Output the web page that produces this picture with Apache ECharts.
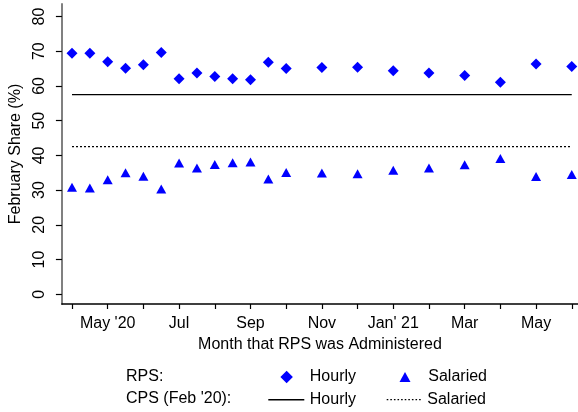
<!DOCTYPE html>
<html>
<head>
<meta charset="utf-8">
<script src="https://cdn.jsdelivr.net/npm/echarts@6/dist/echarts.min.js"></script>
<style>
  html, body { margin: 0; padding: 0; background: #fff; }
  #myCharts { width: 578px; height: 412px; }
</style>
</head>
<body>
<div id="myCharts"></div>
<script>
// months since Apr 2020 (half steps = mid-month waves)
var waveMonth = [0, 0.5, 1, 1.5, 2, 2.5, 3, 3.5, 4, 4.5, 5, 5.5, 6, 7, 8, 9, 10, 11, 12, 13, 14];
var rpsHourly = [69.4, 69.4, 67.0, 65.1, 66.1, 69.6, 62.1, 63.7, 62.7, 62.1, 61.8, 66.8, 65.0,
                 65.3, 65.4, 64.4, 63.7, 63.0, 61.1, 66.3, 65.6];
var rpsSalaried = [30.8, 30.6, 33.0, 35.0, 34.0, 30.3, 37.8, 36.4, 37.4, 37.9, 38.1, 33.2, 35.1,
                   34.9, 34.7, 35.7, 36.4, 37.3, 39.1, 33.9, 34.5];
var cpsHourly = 57.5;
var cpsSalaried = 42.5;
var cpsSpan = [0, 14];

var monthTicks = [0, 1, 2, 3, 4, 5, 6, 7, 8, 9, 10, 11, 12, 13, 14];
var monthLabels = ["", "May '20", "", "Jul", "", "Sep", "", "Nov", "", "Jan' 21", "", "Mar", "", "May", ""];
var yTicks = [0, 10, 20, 30, 40, 50, 60, 70, 80];

var font = "'Liberation Sans', Arial, sans-serif";

function pairs(xs, ys) {
  return xs.map(function (x, i) { return [x, ys[i]]; });
}

// legend icon for the dotted CPS line
var dotPath = "path://";
for (var d = 0; d < 36; d += 3.6) dotPath += "M" + d.toFixed(1) + ",0h1.6v1.3h-1.6z";

function legendItem(name, label, left, top, w, h, icon, gap) {
  return {
    data: [{ name: name, icon: icon }],
    left: left, top: top,
    itemWidth: w, itemHeight: h,
    formatter: function () { return label; },
    textStyle: { fontSize: 16, color: "#000", fontFamily: font, padding: [0, 0, 0, gap] }
  };
}

var myCharts = echarts.init(document.getElementById("myCharts"));
var option = {
  animation: false,
  textStyle: { fontFamily: font, color: "#000" },
  grid: { left: 57.5, right: 0, top: 4, bottom: 108, containLabel: false },
  xAxis: {
    type: "value",
    min: -0.283,
    max: 14.175,
    name: "Month that RPS was Administered",
    nameLocation: "middle",
    nameGap: 32,
    nameTextStyle: { fontSize: 16, color: "#000", fontFamily: font },
    splitLine: { show: false },
    axisLine: { onZero: false, lineStyle: { color: "#000", width: 1.5 } },
    axisTick: { customValues: monthTicks, length: 5, lineStyle: { color: "#000", width: 1.2 } },
    axisLabel: {
      customValues: monthTicks,
      margin: 12,
      fontSize: 16,
      color: "#000",
      fontFamily: font,
      formatter: function (v) { return monthLabels[monthTicks.indexOf(v)] || ""; }
    }
  },
  yAxis: {
    type: "value",
    min: -2.8,
    max: 83.6,
    name: "February Share (%)",
    nameLocation: "middle",
    nameRotate: 90,
    nameGap: 26,
    nameTextStyle: { fontSize: 16, color: "#000", fontFamily: font },
    splitLine: { show: false },
    axisLine: { show: true, onZero: false, lineStyle: { color: "#808080", width: 2 } },
    axisTick: { customValues: yTicks, length: 6, lineStyle: { color: "#000", width: 1.2 } },
    axisLabel: {
      customValues: yTicks,
      rotate: 90,
      margin: 14,
      fontSize: 16,
      color: "#000",
      fontFamily: font
    }
  },
  legend: [
    legendItem("RPS Hourly", "Hourly", 275.4, 364, 12.5, 12.5, "diamond", 11.9),
    legendItem("RPS Salaried", "Salaried", 394.5, 364, 11, 10, "triangle", 12.8),
    legendItem("CPS Hourly", "Hourly", 263.3, 386.7, 36, 1.4, "rect", 0.5),
    legendItem("CPS Salaried", "Salaried", 381.7, 386.7, 36, 1.3, dotPath, 0.6)
  ],
  graphic: [
    { type: "text", left: 126, top: 368.5, style: { text: "RPS:", font: "16px " + font, fill: "#000" } },
    { type: "text", left: 126, top: 391, style: { text: "CPS (Feb '20):", font: "16px " + font, fill: "#000" } }
  ],
  series: [
    {
      name: "CPS Hourly",
      type: "line",
      symbol: "none",
      lineStyle: { color: "#000", width: 1.4, type: "solid" },
      itemStyle: { color: "#000" },
      data: pairs(cpsSpan, [cpsHourly, cpsHourly])
    },
    {
      name: "CPS Salaried",
      type: "line",
      symbol: "none",
      lineStyle: { color: "#000", width: 1.3, type: [2, 2] },
      itemStyle: { color: "#000" },
      data: pairs(cpsSpan, [cpsSalaried, cpsSalaried])
    },
    {
      name: "RPS Hourly",
      type: "scatter",
      symbol: "diamond",
      symbolSize: 11,
      itemStyle: { color: "#0000FF", opacity: 1 },
      data: pairs(waveMonth, rpsHourly)
    },
    {
      name: "RPS Salaried",
      type: "scatter",
      symbol: "triangle",
      symbolSize: [10, 9],
      itemStyle: { color: "#0000FF", opacity: 1 },
      data: pairs(waveMonth, rpsSalaried)
    }
  ]
};
myCharts.setOption(option);
</script>
</body>
</html>
